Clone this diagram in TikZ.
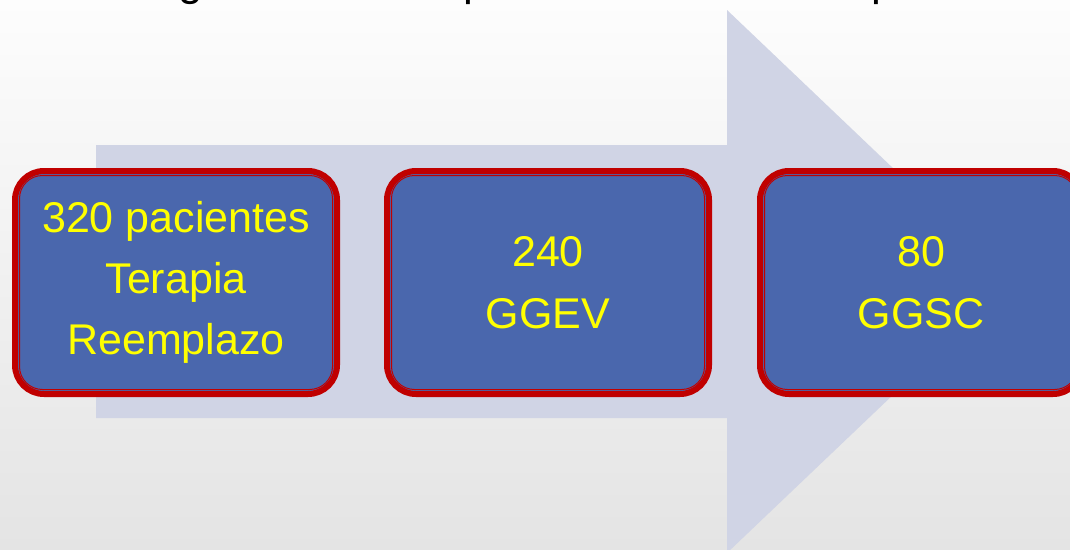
\documentclass[tikz,border=0pt]{standalone}
\usepackage{fontspec}
\setmainfont{Liberation Sans}
\definecolor{bgtop}{RGB}{253,253,253}
\definecolor{bgbot}{RGB}{228,228,228}
\definecolor{arrowc}{RGB}{208,212,229}
\definecolor{boxblue}{RGB}{74,103,173}
\definecolor{boxred}{RGB}{192,0,0}
\definecolor{txtyellow}{RGB}{255,255,0}
\tikzset{
  stagebox/.style={rectangle, rounded corners=29pt, fill=boxblue, draw=boxred,
    line width=6pt, minimum width=322pt, minimum height=223pt, align=center,
    text=txtyellow, font=\fontsize{43}{62}\selectfont, inner sep=0pt},
  innerline/.style={draw=boxred, line width=1pt, rounded corners=23pt},
  titlefrag/.style={anchor=base, font=\fontsize{44}{50}\selectfont, text=black, inner sep=0pt}
}
\begin{document}
\begin{tikzpicture}[x=1pt,y=-1pt]
\useasboundingbox (0,0) rectangle (1070,549);
\begin{scope}
\clip (0,0) rectangle (1070,549);
\shade[top color=bgtop, bottom color=bgbot] (0,0) rectangle (1070,549);
\fill[arrowc] (96,145) -- (727,145) -- (727,10) -- (1012,281.5) -- (727,553) -- (727,418) -- (96,418) -- cycle;
\node[titlefrag] (t1) at (191,-5) {g};
\node[titlefrag] (t2) at (476,-5) {p};
\node[titlefrag] (t3) at (884,-5) {p};
\node[stagebox] (b1) at (176,282.5) {\raisebox{-3pt}{\shortstack{320 pacientes\\[18pt]Terapia\\[18pt]Reemplazo}}};
\node[stagebox] (b2) at (548,282.5) {240\\GGEV};
\node[stagebox] (b3) at (921,282.5) {80\\GGSC};
\foreach \b in {b1,b2,b3}{
  \draw[innerline] ([xshift=7.5pt,yshift=-7.5pt]\b.north west) rectangle ([xshift=-7.5pt,yshift=7.5pt]\b.south east);
}
\end{scope}
\end{tikzpicture}
\end{document}
